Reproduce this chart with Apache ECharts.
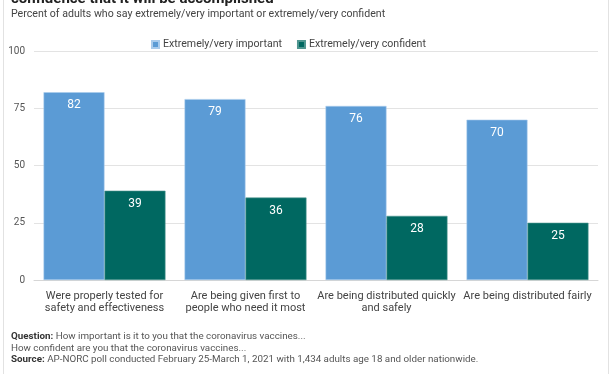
<!DOCTYPE html>
<html>
<head>
<meta charset="utf-8">
<script src="https://cdn.jsdelivr.net/npm/echarts@6/dist/echarts.min.js"></script>
<style>html,body{margin:0;padding:0;background:#fff;}#c{width:612px;height:374px;}</style>
</head>
<body>
<div id="c"></div>
<script>
var categories = [
  'Were properly tested for\nsafety and effectiveness',
  'Are being given first to\npeople who need it most',
  'Are being distributed quickly\nand safely',
  'Are being distributed fairly'
];
var seriesNames = ['Extremely/very important', 'Extremely/very confident'];
var importantValues = [82, 79, 76, 70];
var confidentValues = [39, 36, 28, 25];
var yTicks = [0, 25, 50, 75, 100];

var chart = echarts.init(document.getElementById('c'), null, {renderer: 'canvas'});
var font = 'Roboto, "Liberation Sans", sans-serif';
chart.setOption({
  animation: false,
  textStyle: {fontFamily: font},
  graphic: [
    {type: 'rect', left: 1, top: -5, shape: {width: 605, height: 385}, style: {fill: 'none', stroke: '#e2e2e2', lineWidth: 1}, silent: true},
    {type: 'text', left: 11, top: -8, style: {text: 'confidence that it will be accomplished', font: 'bold 15px ' + font, fill: '#222'}},
    {type: 'text', left: 11, top: 9, style: {text: 'Percent of adults who say extremely/very important or extremely/very confident', font: '10.6px ' + font, fill: '#444'}},
    {type: 'text', left: 11, top: 331, style: {
      text: '{b|Question:} How important is it to you that the coronavirus vaccines...\nHow confident are you that the coronavirus vaccines...\n{b|Source:} AP-NORC poll conducted February 25-March 1, 2021 with 1,434 adults age 18 and older nationwide.',
      font: '9.8px ' + font, fill: '#555', lineHeight: 11.5,
      rich: {b: {fontWeight: 'bold', fontSize: 9.8, fontFamily: font, fill: '#333', lineHeight: 11.5}}
    }}
  ],
  legend: {
    top: 34, left: 146,
    itemWidth: 7, itemHeight: 7, itemGap: 15,
    icon: 'rect',
    textStyle: {fontSize: 10.6, color: '#444', fontFamily: font, padding: [0, 0, 0, -1]},
    data: seriesNames
  },
  grid: {left: 34, right: 14, top: 51, bottom: 94, containLabel: false},
  xAxis: {
    type: 'category', data: categories,
    axisTick: {show: false},
    axisLine: {lineStyle: {color: '#d6d6d6'}},
    axisLabel: {color: '#444', fontSize: 11, lineHeight: 12, margin: 10, interval: 0}
  },
  yAxis: {
    type: 'value', min: 0, max: 100, interval: 25,
    axisLabel: {color: '#555', fontSize: 10, margin: 9, customValues: yTicks},
    splitLine: {lineStyle: {color: '#e3e3e3'}},
    axisLine: {show: false}, axisTick: {show: false}
  },
  series: [
    {name: seriesNames[0], type: 'bar', data: importantValues, barCategoryGap: '13.5%', barGap: '0%',
     itemStyle: {color: '#5b9bd5', borderColor: '#a9cbec', borderWidth: 0.6},
     label: {show: true, position: 'insideTop', distance: 7, color: '#fff', fontSize: 12}},
    {name: seriesNames[1], type: 'bar', data: confidentValues, barGap: '0%',
     itemStyle: {color: '#006861', borderColor: '#4f9690', borderWidth: 0.6},
     label: {show: true, position: 'insideTop', distance: 7, color: '#fff', fontSize: 12}}
  ]
});
</script>
</body>
</html>
